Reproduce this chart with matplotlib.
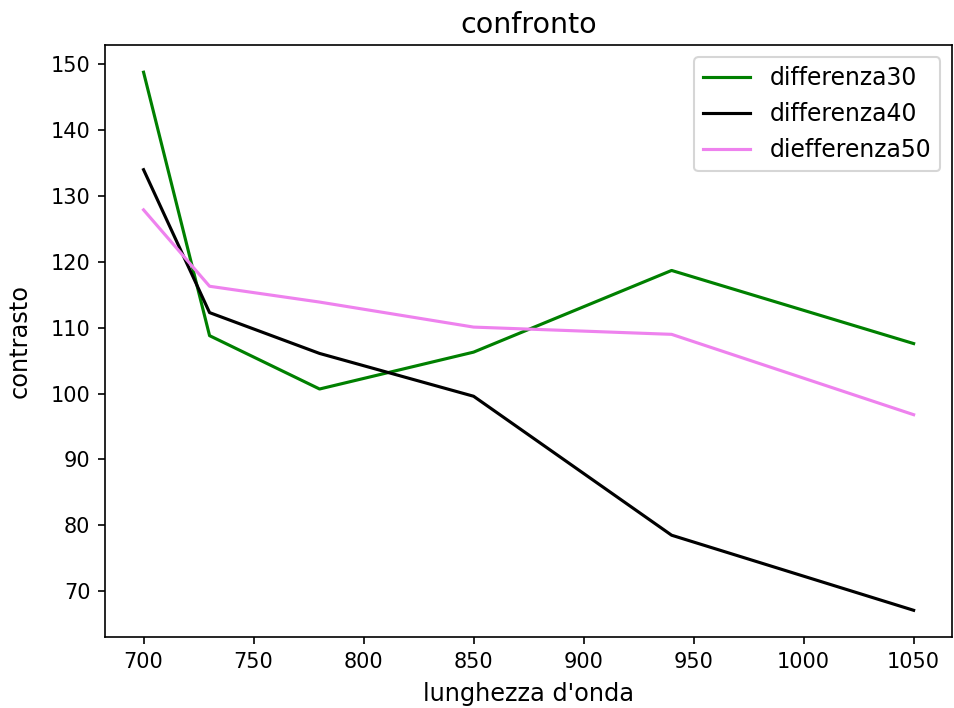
import matplotlib
matplotlib.use("Agg")
import matplotlib.pyplot as plt

# lunghezze d'onda (nm) e contrasto misurato per ciascuna differenza
lunghezze = [700, 730, 780, 850, 940, 1050]
differenza30 = [148.8, 108.8, 100.7, 106.3, 118.7, 107.6]
differenza40 = [134.0, 112.3, 106.1, 99.6, 78.5, 67.1]
differenza50 = [127.9, 116.3, 113.9, 110.1, 109.0, 96.8]

fig, ax = plt.subplots(nrows=1, ncols=1)
fig.set_size_inches(955 / 150, 708 / 150)
fig.subplots_adjust(left=0.110, right=0.997, top=0.936, bottom=0.100)

ax.plot(lunghezze, differenza30, color='green', label='differenza30')
ax.plot(lunghezze, differenza40, color='black', label='differenza40')
ax.plot(lunghezze, differenza50, color='violet', label='diefferenza50')

ax.set_title("confronto", fontsize=13.7)
ax.set_xlabel("lunghezza d'onda", fontsize=11.5, labelpad=5)
ax.set_ylabel("contrasto", fontsize=11.5, labelpad=9)
ax.legend(loc='upper right', fontsize=11.3)

plt.savefig("out.png", dpi=150)
plt.close('all')
